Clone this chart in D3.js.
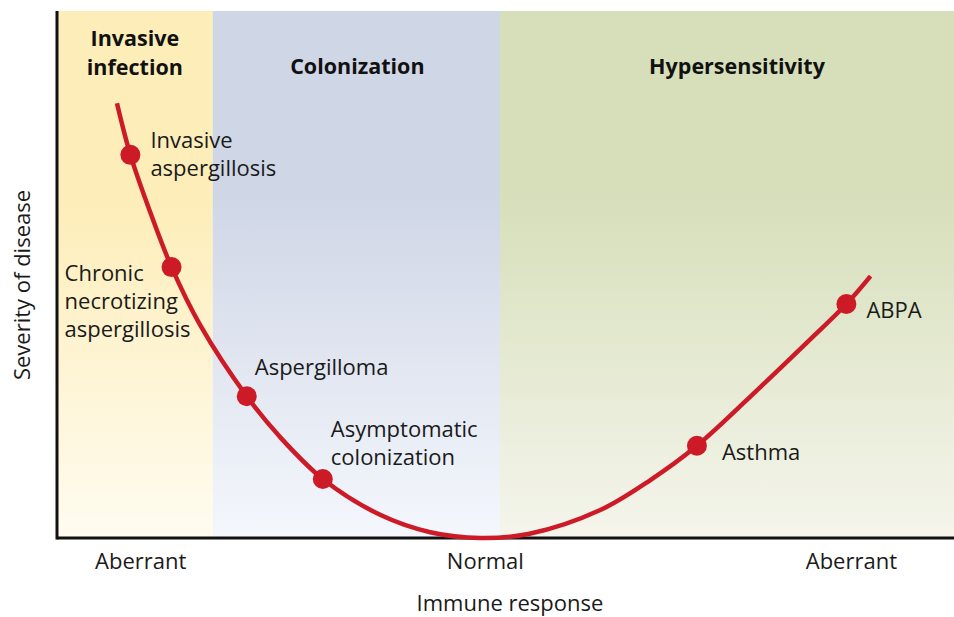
<!DOCTYPE html>
<html>
<head>
<meta charset="utf-8">
<script src="https://cdn.jsdelivr.net/npm/d3@7"></script>
<style>
  html, body { margin: 0; padding: 0; background: #fff; }
  text { font-family: "Open Sans", "Noto Sans", sans-serif; }
</style>
</head>
<body>
<script>
// curve of disease severity against immune response (0..100 on both axes)
const curveX = [6.7, 8.2, 10.4, 12.8, 16.0, 21.2, 24.9, 29.7, 36.1, 41.7, 47.3, 52.8, 60.7, 66.3, 71.5, 78.5, 84.1, 88.2, 90.9];
const curveY = [82.5, 72.7, 61.9, 51.4, 40.4, 26.9, 19.2, 11.2, 4.4, 1.1, 0, 0.8, 5.3, 11.0, 17.5, 28.5, 37.6, 44.4, 49.7];

const pointNames = [
  ["Invasive", "aspergillosis"],
  ["Chronic", "necrotizing", "aspergillosis"],
  ["Aspergilloma"],
  ["Asymptomatic", "colonization"],
  ["Asthma"],
  ["ABPA"],
];
const pointX = [8.2, 12.8, 21.2, 29.7, 71.5, 88.2];
const pointY = [72.7, 51.4, 26.9, 11.2, 17.5, 44.4];

const bandNames = [["Invasive", "infection"], ["Colonization"], ["Hypersensitivity"]];
const bandStart = [0, 17.4, 49.5];
const bandEnd = [17.4, 49.5, 100.3];

const tickValues = [9.3, 47.8, 88.7];
const tickLabels = ["Aberrant", "Normal", "Aberrant"];

const width = 954;
const height = 617;
const margin = { top: 11, right: 0, bottom: 79, left: 57 };

const x = d3.scaleLinear().domain([0, 100]).range([margin.left, 952]);
const y = d3.scaleLinear().domain([0, 100]).range([height - margin.bottom, margin.top]);

const svg = d3.select("body")
    .append("svg")
    .attr("width", width)
    .attr("height", height)
    .attr("viewBox", [0, 0, width, height].join(" "));

const bandColors = [
  ["#fdedb8", "#fffcf0"],
  ["#cfd6e6", "#f4f7fc"],
  ["#d6dfba", "#f5f5ec"],
];

const defs = svg.append("defs");
bandColors.forEach((c, i) => {
  const g = defs.append("linearGradient")
      .attr("id", `band${i}`)
      .attr("x1", 0).attr("y1", 0).attr("x2", 0).attr("y2", 1);
  g.append("stop").attr("offset", "0%").attr("stop-color", c[0]);
  g.append("stop").attr("offset", "35%").attr("stop-color", c[0]);
  g.append("stop").attr("offset", "100%").attr("stop-color", c[1]);
});

svg.append("g")
    .selectAll("rect")
    .data(bandNames)
    .join("rect")
    .attr("x", (d, i) => x(bandStart[i]))
    .attr("width", (d, i) => x(bandEnd[i]) - x(bandStart[i]))
    .attr("y", y(100))
    .attr("height", y(0) - y(100))
    .attr("fill", (d, i) => `url(#band${i})`);

// band titles
svg.append("g")
    .selectAll("text")
    .data(bandNames)
    .join("text")
    .attr("x", (d, i) => (x(bandStart[i]) + x(Math.min(bandEnd[i], 100))) / 2 + (i === 0 ? 0 : (i === 2 ? 11 : 1)))
    .attr("y", (d) => (d.length > 1 ? 46 : 74))
    .attr("text-anchor", "middle")
    .attr("font-size", 21.5)
    .attr("font-weight", "bold")
    .attr("fill", "#111")
    .selectAll("tspan")
    .data((d) => d)
    .join("tspan")
    .attr("x", function () { return d3.select(this.parentNode).attr("x"); })
    .attr("dy", (d, i) => (i === 0 ? 0 : 29))
    .text((d) => d);

// axes
svg.append("g")
    .attr("transform", `translate(0,${y(0)})`)
    .call(d3.axisBottom(x).tickValues(tickValues).tickSize(0).tickPadding(15)
        .tickFormat((d, i) => tickLabels[i]))
    .call((g) => g.select(".domain").attr("stroke", "#111").attr("stroke-width", 3)
        .attr("d", `M${x(0)},0H${width}`))
    .call((g) => g.selectAll("text").attr("font-size", 22).attr("fill", "#1a1a1a")
        .attr("font-family", "\"Open Sans\", sans-serif"));

svg.append("g")
    .attr("transform", `translate(${x(0)},0)`)
    .call(d3.axisLeft(y).tickValues([]).tickSize(0))
    .call((g) => g.select(".domain").attr("stroke", "#111").attr("stroke-width", 3)
        .attr("d", `M0,${y(100)}V${y(0) + 1.5}`));

svg.append("text")
    .attr("x", 510)
    .attr("y", 611)
    .attr("text-anchor", "middle")
    .attr("font-size", 22)
    .attr("fill", "#1a1a1a")
    .text("Immune response");

svg.append("text")
    .attr("transform", `translate(30,${285}) rotate(-90)`)
    .attr("text-anchor", "middle")
    .attr("font-size", 22)
    .attr("fill", "#1a1a1a")
    .text("Severity of disease");

// curve
const line = d3.line()
    .x((d) => x(d[0]))
    .y((d) => y(d[1]))
    .curve(d3.curveCatmullRom.alpha(0.5));

svg.append("path")
    .datum(curveX.map((v, i) => [v, curveY[i]]))
    .attr("d", line)
    .attr("fill", "none")
    .attr("stroke", "#cc1b27")
    .attr("stroke-width", 4.5)
    .attr("stroke-linecap", "butt");

svg.append("g")
    .selectAll("circle")
    .data(pointX)
    .join("circle")
    .attr("cx", (d) => x(d))
    .attr("cy", (d, i) => y(pointY[i]))
    .attr("r", 10)
    .attr("fill", "#cc1b27");

// point labels
const labelOffsets = [[20, -7], [-107, 14], [8, -21], [8, -42], [25, 14], [20, 14]];

svg.append("g")
    .selectAll("text")
    .data(pointNames)
    .join("text")
    .attr("x", (d, i) => x(pointX[i]) + labelOffsets[i][0])
    .attr("y", (d, i) => y(pointY[i]) + labelOffsets[i][1])
    .attr("font-size", 22)
    .attr("fill", "#1a1a1a")
    .selectAll("tspan")
    .data((d) => d)
    .join("tspan")
    .attr("x", function () { return d3.select(this.parentNode).attr("x"); })
    .attr("dy", (d, i) => (i === 0 ? 0 : 28))
    .text((d) => d);
</script>
</body>
</html>
